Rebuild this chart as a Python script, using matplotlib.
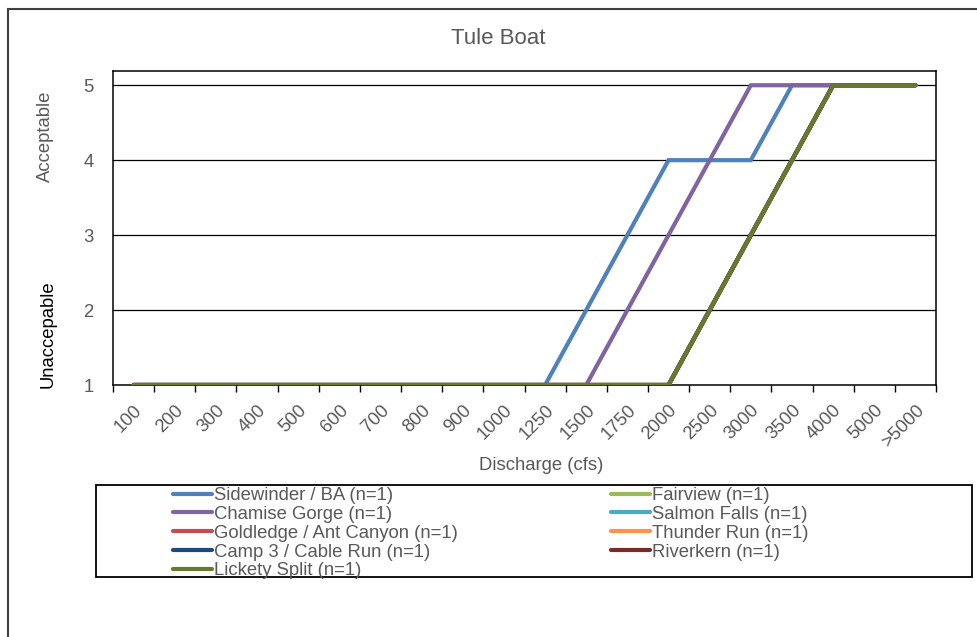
import matplotlib.pyplot as plt
from matplotlib.patches import Rectangle

plt.rcParams['font.family'] = ['Liberation Sans', 'DejaVu Sans']

flows = ['100', '200', '300', '400', '500', '600', '700', '800', '900', '1000',
         '1250', '1500', '1750', '2000', '2500', '3000', '3500', '4000', '5000', '>5000']

# ratings per run (1 = unacceptable ... 5 = acceptable)
sidewinder = [1, 1, 1, 1, 1, 1, 1, 1, 1, 1, 1, 2, 3, 4, 4, 4, 5, 5, 5, 5]
chamise = [1, 1, 1, 1, 1, 1, 1, 1, 1, 1, 1, 1, 2, 3, 4, 5, 5, 5, 5, 5]
lickety = [1, 1, 1, 1, 1, 1, 1, 1, 1, 1, 1, 1, 1, 1, 2, 3, 4, 5, 5, 5]
fairview = lickety
salmon = lickety
goldledge = lickety
thunder = lickety
camp3 = lickety
riverkern = lickety

# plotting order (last one ends up on top)
series = [
    ('Sidewinder / BA (n=1)', sidewinder, '#4F81BD'),
    ('Fairview (n=1)', fairview, '#9BBB59'),
    ('Chamise Gorge (n=1)', chamise, '#8064A2'),
    ('Salmon Falls (n=1)', salmon, '#4BACC6'),
    ('Goldledge / Ant Canyon (n=1)', goldledge, '#C0504D'),
    ('Thunder Run (n=1)', thunder, '#F79646'),
    ('Camp 3 / Cable Run (n=1)', camp3, '#1F497D'),
    ('Riverkern (n=1)', riverkern, '#772C2A'),
    ('Lickety Split (n=1)', lickety, '#647A31'),
]
legend_order = [0, 2, 4, 6, 8, 1, 3, 5, 7]

gray = '#595959'
W, H = 977, 637
fig = plt.figure(figsize=(W / 100, H / 100), dpi=100)
ax = fig.add_axes([113 / W, 1 - 385 / H, (936 - 113) / W, (385 - 71) / H])

x = list(range(len(flows)))
handles = []
for name, vals, col in series:
    h, = ax.plot(x, vals, color=col, lw=3.0, solid_capstyle='round',
                 solid_joinstyle='miter', label=name, zorder=3)
    handles.append(h)

ax.set_xlim(-0.5, len(flows) - 0.5)
ax.set_ylim(1, 5.19)
for yv in [2, 3, 4, 5]:
    ax.axhline(yv, color='black', lw=0.9, zorder=1)

ax.set_xticks([i - 0.5 for i in range(len(flows) + 1)])
ax.set_xticklabels([])
ax.set_xticks(x, minor=True)
ax.set_xticklabels(flows, minor=True, rotation=45, ha='right',
                   rotation_mode='anchor', fontsize=13.3, color=gray)
ax.tick_params(axis='x', which='major', length=5, width=1, direction='out', color='black')
ax.tick_params(axis='x', which='minor', length=0, pad=12)
ax.set_yticks([1, 2, 3, 4, 5])
ax.tick_params(axis='y', length=0, pad=14, labelsize=13.3, labelcolor=gray)
for s in ax.spines.values():
    s.set_color('black')
    s.set_linewidth(1.1)

fig.text(498 / W, 1 - 38 / H, 'Tule Boat', ha='center', va='center', fontsize=16, color=gray)
fig.text(541 / W, 1 - 465 / H, 'Discharge (cfs)', ha='center', va='center',
         fontsize=13.3, color=gray)
fig.text(45 / W, 1 - 136 / H, 'Acceptable', rotation=90, ha='center', va='center',
         fontsize=13.3, color=gray)
fig.text(48 / W, 1 - 334 / H, 'Unaccepable', rotation=90, ha='center', va='center',
         fontsize=13.3, color='black')

# legend box
fig.patches.append(Rectangle((96 / W, 1 - 577 / H), (972 - 96) / W, (577 - 485) / H,
                             transform=fig.transFigure, fill=False, ec='black', lw=1.3))
fig.legend([handles[i] for i in legend_order], [series[i][0] for i in legend_order],
           ncol=2, loc='upper left', bbox_to_anchor=(173 / W, 1 - 487 / H),
           frameon=False, fontsize=13.3, handlelength=2.1, handletextpad=0.12,
           labelspacing=0.1, columnspacing=8.3, borderpad=0, borderaxespad=0,
           labelcolor=gray)

# outer chart border
fig.patches.append(Rectangle((8 / W, -0.05), 1.1, 1 - 9 / H + 0.05,
                             transform=fig.transFigure, fill=False, ec='#404040', lw=1.5))

fig.savefig('out.png', dpi=100)
